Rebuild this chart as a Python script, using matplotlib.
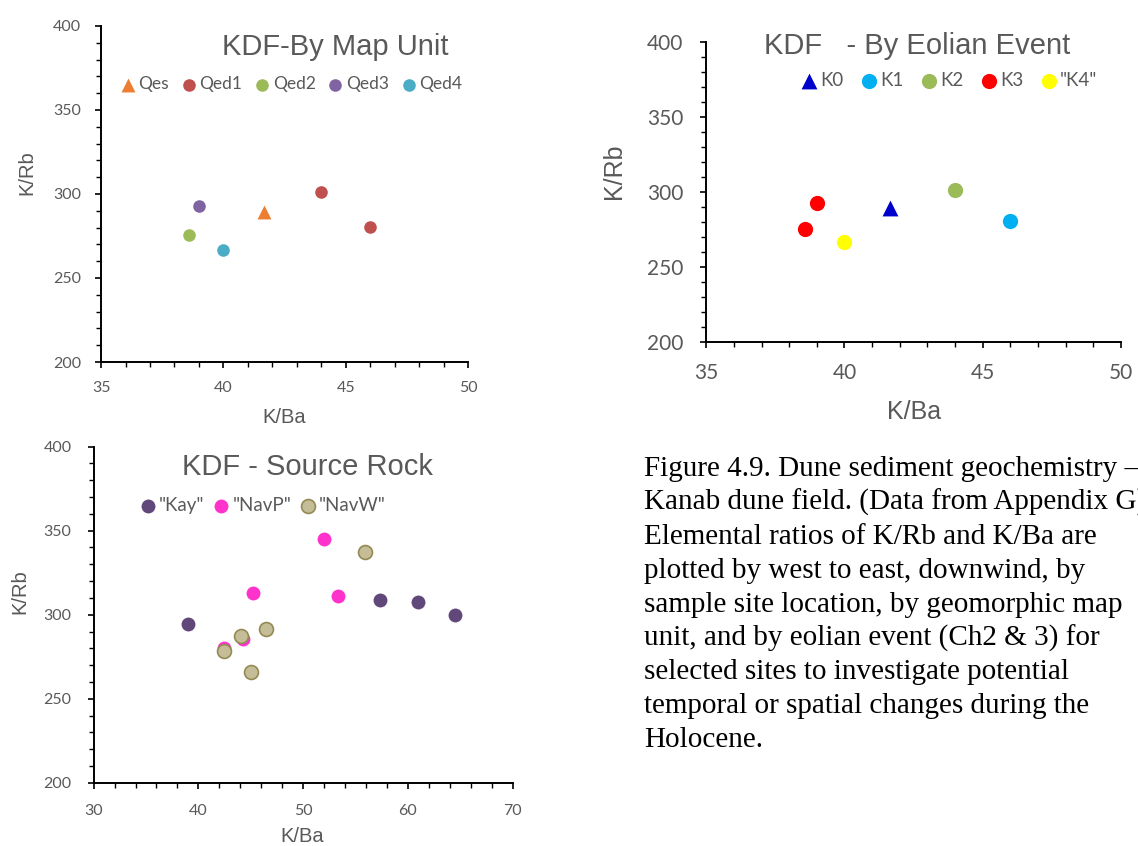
import matplotlib.pyplot as plt
from matplotlib.ticker import MultipleLocator

# ---- data ----
unit_names = ['Qes', 'Qed1', 'Qed2', 'Qed3', 'Qed4']
unit_x = [[41.66], [44.0, 46.0], [38.58], [39.0], [40.0]]
unit_y = [[289.3], [301.4, 280.5], [275.6], [293.0], [266.7]]
unit_colors = ['#ED7D31', '#C0504D', '#9BBB59', '#8064A2', '#4BACC6']
unit_markers = ['^', 'o', 'o', 'o', 'o']

event_names = ['K0', 'K1', 'K2', 'K3', '"K4"']
event_x = [[41.66], [46.0], [44.0], [38.58, 39.0], [40.0]]
event_y = [[289.3], [280.5], [301.4], [275.6, 293.0], [266.7]]
event_colors = ['#0000CC', '#00B0F0', '#9BBB59', '#FF0000', '#FFFF00']
event_markers = ['^', 'o', 'o', 'o', 'o']

rock_names = ['"Kay"', '"NavP"', '"NavW"']
kay_x = [39.04, 57.3, 60.96, 64.5]
kay_y = [294.4, 308.5, 307.5, 299.8]
navp_x = [52.0, 45.24, 53.3, 42.48, 44.25]
navp_y = [345.2, 312.7, 310.9, 280.0, 285.5]
navw_x = [55.95, 46.47, 44.08, 42.48, 45.0]
navw_y = [337.1, 291.5, 287.3, 278.6, 266.1]

caption = [
    "Figure 4.9. Dune sediment geochemistry \u2013",
    "Kanab dune field. (Data from Appendix G).",
    "Elemental ratios of K/Rb and K/Ba are",
    "plotted by west to east, downwind, by",
    "sample site location, by geomorphic map",
    "unit, and by eolian event (Ch2 & 3) for",
    "selected sites to investigate potential",
    "temporal or spatial changes during the",
    "Holocene.",
]

grey = '#595959'
W, H = 1138, 846

fig = plt.figure(figsize=(W / 100, H / 100), dpi=100)


def style_axes(ax, xlim, xmaj, xmin, tick_size, lab_size, ylab_pos, xlab_pos, xpad, ypad):
    ax.set_xlim(*xlim)
    ax.set_ylim(200, 400)
    ax.xaxis.set_major_locator(MultipleLocator(xmaj))
    ax.xaxis.set_minor_locator(MultipleLocator(xmin))
    ax.yaxis.set_major_locator(MultipleLocator(50))
    ax.yaxis.set_minor_locator(MultipleLocator(10))
    for s in ['top', 'right']:
        ax.spines[s].set_visible(False)
    for s in ['left', 'bottom']:
        ax.spines[s].set_linewidth(1.4)
        ax.spines[s].set_color('black')
    ax.tick_params(which='major', direction='out', length=4.5, width=1.2,
                   labelsize=tick_size, labelcolor=grey, labelfontfamily='Lato')
    ax.tick_params(axis='x', which='major', pad=xpad)
    ax.tick_params(axis='y', which='major', pad=ypad)
    ax.tick_params(which='minor', direction='out', length=3.5, width=1.0)
    ax.set_xlabel('K/Ba', fontsize=lab_size, color=grey, family='Liberation Sans')
    ax.set_ylabel('K/Rb', fontsize=lab_size, color=grey, family='Liberation Sans')
    ax.yaxis.label.set_va('center')
    ax.xaxis.label.set_va('center')
    ax.yaxis.set_label_coords(*ylab_pos)
    ax.xaxis.set_label_coords(*xlab_pos)


# ---- panel 1: by map unit ----
ax1 = fig.add_axes([0.0888, 0.5721, 0.3225, 0.3972])
for name, xs, ys, c, m in zip(unit_names, unit_x, unit_y, unit_colors, unit_markers):
    ax1.scatter(xs, ys, s=82 if m == 'o' else 100, c=c, marker=m, linewidths=0, label=name, zorder=3)
style_axes(ax1, (35, 50), 5, 1, 11.5, 14.5, (-0.2016, 0.565), (0.5, -0.164), 9.5, 10)
ax1.legend(loc='center', bbox_to_anchor=(0.517, 0.827), ncol=5, frameon=False,
           prop={'family': 'Lato', 'size': 12.5}, labelcolor=grey,
           handletextpad=0.1, columnspacing=0.65, handlelength=1.0,
           borderaxespad=0, borderpad=0)
fig.text(335 / W, 1 - 55 / H, 'KDF-By Map Unit', ha='center', va='baseline',
         fontsize=21, color=grey, family='Liberation Sans')

# ---- panel 2: by eolian event ----
ax2 = fig.add_axes([0.6206, 0.5954, 0.3644, 0.3553])
for name, xs, ys, c, m in zip(event_names, event_x, event_y, event_colors, event_markers):
    ax2.scatter(xs, ys, s=120 if m == 'o' else 130, c=c, marker=m, linewidths=0, label=name, zorder=3)
style_axes(ax2, (35, 50), 5, 1, 15, 18, (-0.223, 0.5675), (0.5, -0.231), 10.5, 12)
ax2.legend(loc='center', bbox_to_anchor=(0.584, 0.870), ncol=5, frameon=False,
           prop={'family': 'Lato', 'size': 13.5}, labelcolor=grey,
           handletextpad=0.1, columnspacing=0.85, handlelength=1.0,
           borderaxespad=0, borderpad=0)
fig.text(917 / W, 1 - 54 / H, 'KDF   - By Eolian Event', ha='center', va='baseline',
         fontsize=21, color=grey, family='Liberation Sans')

# ---- panel 3: source rock ----
ax3 = fig.add_axes([0.0823, 0.0748, 0.3681, 0.3972])
ax3.scatter(kay_x, kay_y, s=100, c='#60497A', linewidths=0, label=rock_names[0], zorder=3)
ax3.scatter(navp_x, navp_y, s=100, c='#FF33CC', linewidths=0, label=rock_names[1], zorder=3)
ax3.scatter(navw_x, navw_y, s=100, c='#C4BD97', edgecolors='#948A54', linewidths=1.2,
            label=rock_names[2], zorder=3)
style_axes(ax3, (30, 70), 10, 2, 11.5, 14.5, (-0.1767, 0.5685), (0.499, -0.161), 11, 11.5)
ax3.legend(loc='center', bbox_to_anchor=(0.402, 0.824), ncol=3, frameon=False,
           prop={'family': 'Lato', 'size': 13.5}, labelcolor=grey,
           handletextpad=0.1, columnspacing=0.4, handlelength=1.0,
           borderaxespad=0, borderpad=0)
fig.text(307 / W, 1 - 475 / H, 'KDF - Source Rock', ha='center', va='baseline',
         fontsize=21, color=grey, family='Liberation Sans')

# ---- caption ----
for i, line in enumerate(caption):
    fig.text(644 / W, 1 - (476 + 33.9 * i) / H, line, ha='left', va='baseline',
             fontsize=21, color='black', family='Liberation Serif')

fig.savefig('out.png', dpi=100)
